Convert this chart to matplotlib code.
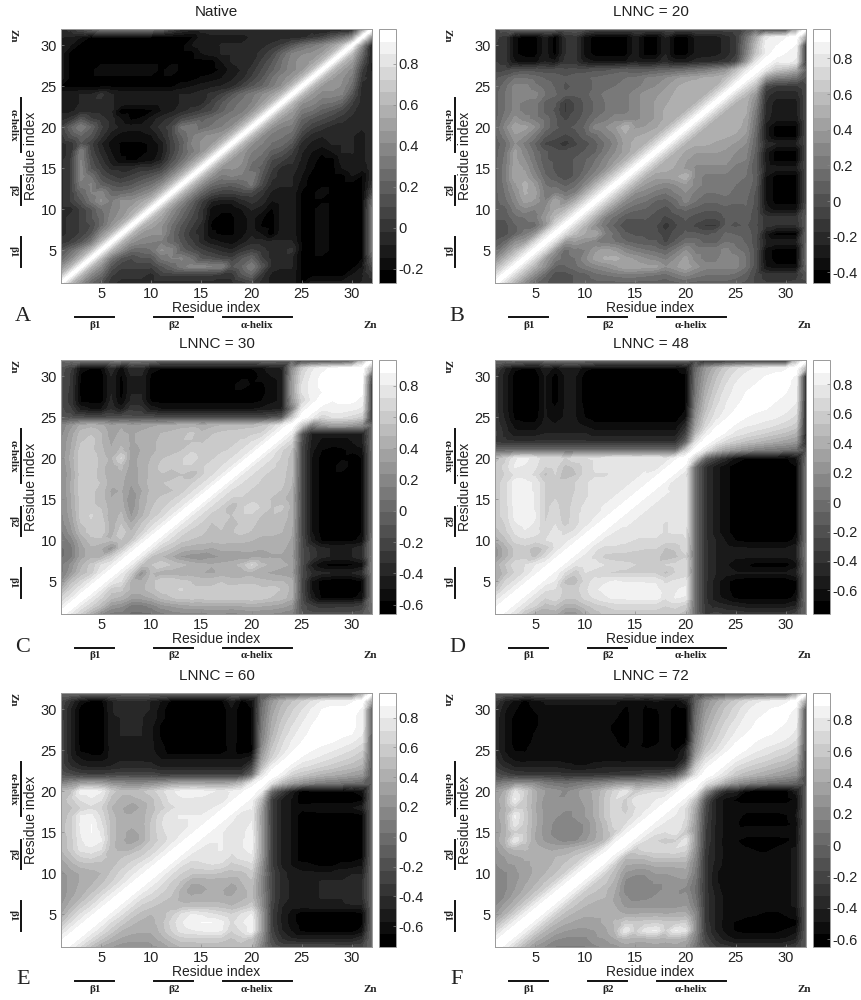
import numpy as np
import matplotlib
matplotlib.use('Agg')
import matplotlib.pyplot as plt
from matplotlib.colors import ListedColormap
from matplotlib.lines import Line2D
from matplotlib.tri import Triangulation

W, H = 861, 1000
plt.rcParams['font.family'] = ['Liberation Sans', 'DejaVu Sans']

titles = ['Native', 'LNNC = 20', 'LNNC = 30', 'LNNC = 48', 'LNNC = 60', 'LNNC = 72']
letters = ['A', 'B', 'C', 'D', 'E', 'F']
cbar_low = [-0.27, -0.46, -0.66, -0.76, -0.74, -0.65]
cbar_high = [0.97, 0.965, 0.965, 0.965, 0.965, 0.97]
cbar_ticks = [[-0.2, 0, 0.2, 0.4, 0.6, 0.8],
              [-0.4, -0.2, 0, 0.2, 0.4, 0.6, 0.8],
              [-0.6, -0.4, -0.2, 0, 0.2, 0.4, 0.6, 0.8],
              [-0.6, -0.4, -0.2, 0, 0.2, 0.4, 0.6, 0.8],
              [-0.6, -0.4, -0.2, 0, 0.2, 0.4, 0.6, 0.8],
              [-0.6, -0.4, -0.2, 0, 0.2, 0.4, 0.6, 0.8]]
residue_ticks = [5, 10, 15, 20, 25, 30]

# secondary structure ranges (residue numbers)
struct_names = ['\u03b21', '\u03b22', '\u03b1-helix']
struct_start = [2.4, 10.3, 17.1]
struct_end = [6.3, 14.2, 24.0]
# the vertical bars do not follow the axis, pixels below the axes top
vbar_top = [208, 147, 69]
vbar_bottom = [238, 176, 123]

# correlation, lower triangle by row, in hundredths
native = [
    [97],
    [60, 97],
    [40, 60, 97],
    [22, 38, 60, 97],
    [12, 25, 40, 60, 97],
    [0, 5, 15, 30, 60, 97],
    [-5, 0, 5, 15, 40, 60, 97],
    [-5, 0, 5, 10, 25, 42, 60, 97],
    [-5, 0, 5, 15, 25, 38, 45, 60, 97],
    [-5, -5, 5, 15, 28, 35, 42, 50, 62, 97],
    [-5, 5, 15, 30, 42, 33, 42, 42, 50, 62, 97],
    [-5, 5, 22, 35, 38, 25, 25, 28, 35, 42, 62, 97],
    [-5, 5, 32, 36, 20, 15, 12, 15, 22, 28, 40, 62, 97],
    [-5, 5, 38, 28, 12, 5, 0, 5, 10, 15, 22, 40, 62, 97],
    [-5, 5, 38, 15, 5, -5, -5, -5, 0, 0, 5, 22, 40, 62, 97],
    [-5, 5, 35, 12, 0, -12, -20, -22, -20, -18, -8, 10, 25, 42, 62, 97],
    [-5, 0, 35, 8, -5, -15, -22, -22, -22, -20, -12, 5, 20, 32, 42, 62, 97],
    [-5, 0, 15, 5, -8, -18, -22, -22, -22, -20, -12, 5, 18, 35, 42, 45, 62, 97],
    [0, 15, 22, 15, 0, -12, -18, -18, -18, -15, -5, 8, 22, 33, 40, 42, 45, 62, 97],
    [5, 22, 35, 22, 5, -5, -10, -12, -12, -8, 0, 8, 30, 35, 25, 30, 35, 42, 62, 97],
    [-5, 0, 15, 5, 0, -5, -15, -22, -20, -12, -5, 0, 10, 15, 20, 25, 30, 35, 42, 62, 97],
    [-10, -10, -5, -5, -5, -8, -25, -24, -24, -22, -15, -10, -5, 0, 5, 10, 20, 28, 32, 42, 62, 97],
    [-10, -10, -8, -5, -5, -8, -10, -12, -12, -12, -12, -10, -8, -5, -5, 5, 15, 25, 30, 35, 45, 62, 97],
    [-10, -10, -8, -8, 0, -8, -10, -10, -10, -10, -10, -10, -8, -8, -5, 0, 5, 15, 25, 32, 40, 48, 62, 97],
    [-22] * 12 + [-18, -15, -12, -10, -8, -5, 5, 15, 22, 32, 42, 62, 97],
    [-12] + [-24] * 13 + [-20, -18, -15, -10, -5, 5, 15, 28, 38, 45, 62, 97],
    [-12, -24, -24, -24, -15, -15, -15, -15, -15, -15, -24, -15, -24, -24, -24, -24, -20, -12, -8, 0, 10, 20, 30, 38, 45, 62, 97],
    [-12] + [-24] * 15 + [-15, -8, -5, -5, 5, 15, 28, 38, 45, 48, 62, 97],
    [-12] + [-24] * 13 + [-15, -12, -8, -8, -5, -5, 0, 8, 22, 35, 40, 42, 48, 62, 97],
    [-10, -15] + [-24] * 11 + [-15, -10, -10, -8, -8, -8, -5, -5, 0, 5, 15, 25, 32, 38, 48, 62, 97],
    [-8, -10, -15] + [-22] * 11 + [-12, -10, -10, -10, -10, -8, -8, -8, -5, -5, -5, 0, 5, 15, 25, 40, 97],
    [-5, 0, 10, 20, 30, 30, 30, 30, 30, 30, 25, 10, 0] + [-5] * 13 + [-10, -10, -10, -10, 40, 97],
]

lnnc20 = [
    [97],
    [72, 97],
    [50, 72, 97],
    [28, 50, 72, 97],
    [12, 30, 50, 72, 97],
    [5, 12, 32, 40, 72, 97],
    [0, 0, 10, 22, 35, 72, 97],
    [0, 0, 10, 15, 15, 35, 72, 97],
    [5, 5, 15, 18, 22, 38, 55, 72, 97],
    [5, 8, 22, 30, 25, 32, 45, 52, 72, 97],
    [8, 15, 28, 42, 38, 25, 45, 32, 48, 72, 97],
    [8, 18, 32, 48, 42, 22, 25, 18, 25, 48, 72, 97],
    [8, 20, 38, 50, 38, 18, 15, 8, 15, 28, 50, 72, 97],
    [8, 22, 45, 42, 28, 12, 5, -2, 5, 18, 30, 50, 72, 97],
    [8, 22, 45, 38, 22, 8, 2, -2, 5, 12, 22, 32, 50, 72, 97],
    [8, 20, 42, 32, 18, 5, 2, 0, 5, 10, 18, 28, 38, 50, 72, 97],
    [8, 18, 42, 28, 15, 5, 0, -2, 0, 5, 10, 22, 32, 42, 52, 72, 97],
    [5, 15, 32, 22, 10, -5, -8, -15, -5, 0, 8, 18, 28, 42, 50, 52, 72, 97],
    [8, 22, 38, 32, 20, 5, 0, -5, 0, 8, 15, 25, 32, 45, 45, 48, 52, 72, 97],
    [10, 28, 45, 42, 32, 15, 5, 2, 5, 12, 28, 32, 38, 52, 38, 40, 45, 52, 72, 97],
    [8, 22, 35, 28, 22, 15, 5, -5, 0, 8, 18, 22, 30, 30, 30, 35, 40, 48, 52, 72, 97],
    [8, 18, 28, 22, 22, 8, 2, -12, -2, 5, 12, 18, 22, 22, 30, 35, 40, 48, 52, 52, 72, 97],
    [8, 18, 28, 22, 22, 8, 5, -12, -2, 5, 12, 18, 22, 22, 30, 35, 40, 45, 50, 52, 52, 72, 97],
    [8, 18, 28, 32, 28, 18, 12, 5, 5, 8, 15, 20, 22, 22, 30, 35, 38, 42, 48, 52, 52, 52, 72, 97],
    [5, 15, 28, 28, 20, 15, 10, 2, 5, 8, 12, 15, 18, 20, 22, 28, 32, 38, 45, 50, 50, 50, 52, 72, 97],
    [2, 8, 18, 18, 15, 10, 8, 5, 8, 10, 12, 15, 18, 18, 20, 25, 28, 32, 38, 42, 45, 48, 50, 55, 75, 97],
    [-5, -5, -2, 0, 0, -2, 0, -2, 0, 0, 2, 2, 5, 8, 5, 5, 8, 10, 12, 15, 18, 22, 28, 35, 55, 78, 97],
    [-10, -15, -32, -35, -35, -25, -30, -15, -15, -28, -32, -32, -32, -32, -25, -28, -28, -20, -28, -28, -22, -20, -18, -15, -5, 35, 78, 97],
    [-10, -15, -38, -42, -42, -28, -42, -18, -15, -35, -42, -42, -42, -42, -28, -42, -42, -25, -42, -42, -30, -28, -28, -22, -12, 22, 60, 82, 97],
    [-10, -15, -38, -42, -42, -28, -42, -18, -15, -35, -42, -42, -42, -42, -28, -42, -42, -25, -42, -42, -30, -28, -28, -22, -12, 20, 55, 85, 88, 97],
    [-8, -15, -38, -42, -42, -28, -42, -18, -15, -35, -42, -42, -42, -42, -28, -42, -42, -25, -42, -42, -30, -28, -28, -22, -12, 15, 45, 80, 85, 88, 97],
    [-5, 0, 10, 15, 15, 10, 10, 5, 5, 0, -5, -5, -5, -5, -5, -5, -5, -5, -5, -5, -5, -5, -5, -5, -5, 0, 10, -12, -15, -15, 40, 97],
]

lnnc30 = [
    [97],
    [78, 97],
    [62, 78, 97],
    [42, 65, 80, 97],
    [22, 50, 65, 80, 97],
    [12, 30, 50, 60, 80, 97],
    [12, 25, 45, 58, 72, 80, 97],
    [5, 12, 35, 45, 45, 60, 80, 97],
    [5, 12, 35, 45, 40, 25, 55, 80, 97],
    [5, 18, 40, 52, 52, 48, 55, 55, 80, 97],
    [12, 28, 50, 60, 62, 42, 62, 48, 62, 80, 97],
    [18, 32, 55, 62, 62, 42, 55, 40, 55, 68, 80, 97],
    [20, 35, 60, 65, 58, 40, 50, 30, 45, 58, 68, 80, 97],
    [20, 38, 60, 58, 55, 42, 45, 25, 42, 55, 60, 70, 80, 97],
    [20, 38, 58, 58, 52, 40, 42, 22, 42, 52, 58, 62, 70, 80, 97],
    [22, 40, 62, 58, 52, 38, 40, 28, 38, 50, 52, 55, 60, 70, 80, 97],
    [22, 40, 62, 60, 55, 42, 42, 32, 42, 52, 55, 58, 60, 62, 70, 80, 97],
    [20, 38, 60, 60, 52, 40, 45, 32, 42, 50, 55, 50, 55, 48, 62, 70, 80, 97],
    [22, 40, 62, 62, 52, 40, 50, 35, 42, 50, 58, 58, 62, 62, 62, 68, 72, 80, 97],
    [25, 42, 62, 62, 52, 45, 65, 35, 42, 48, 55, 58, 62, 70, 60, 62, 68, 72, 80, 97],
    [22, 40, 60, 58, 50, 40, 50, 35, 40, 45, 50, 52, 55, 62, 58, 60, 62, 65, 72, 80, 97],
    [22, 38, 55, 60, 48, 38, 45, 38, 42, 45, 50, 50, 55, 55, 55, 58, 60, 62, 65, 72, 80, 97],
    [20, 35, 52, 55, 48, 35, 42, 38, 42, 45, 48, 50, 52, 58, 50, 55, 58, 60, 62, 62, 65, 80, 97],
    [18, 28, 42, 45, 42, 32, 38, 32, 35, 38, 40, 42, 45, 45, 42, 45, 48, 50, 50, 52, 55, 65, 80, 97],
    [-10, -12, -15, -18, -18, -15, -15, -15, -15, -15] + [-18] * 11 + [-15, -10, 55, 97],
    [-15, -25, -45, -50, -50, -35, -45, -28, -30, -45] + [-50] * 10 + [-48, -45, -42, 10, 80, 97],
    [-15, -30, -60, -62, -62, -40, -58, -40, -40, -60] + [-62] * 10 + [-58, -52, -48, 25, 65, 82, 97],
    [-15, -30, -62, -64, -64, -42, -62, -42, -42, -62] + [-64] * 10 + [-62, -52, -48, 30, 72, 85, 88, 97],
    [-15, -28, -62, -64, -64, -42, -62, -42, -42, -62] + [-64] * 8 + [-50, -60, -60, -52, -48, 30, 72, 85, 90, 92, 97],
    [-15, -28, -60, -64, -64, -42, -60, -42, -42, -60] + [-64] * 10 + [-55, -50, -48, 28, 68, 82, 90, 93, 93, 97],
    [-12, -25, -55, -58, -58, -35, -55, -35, -35, -55] + [-58] * 10 + [-52, -45, -42, 20, 60, 78, 85, 90, 92, 92, 97],
    [0, 5, 10, 10, 10, 12, 15, 12, 10, 8] + [5] * 10 + [5, 5, 0, 0, -30, -30, -30, -30, -30, -20, 40, 97],
]

lnnc48 = [
    [97],
    [85, 97],
    [72, 85, 97],
    [52, 72, 85, 97],
    [38, 62, 72, 85, 97],
    [35, 48, 62, 72, 85, 97],
    [38, 52, 68, 70, 78, 85, 97],
    [22, 40, 55, 58, 50, 68, 85, 97],
    [22, 40, 55, 58, 48, 55, 72, 85, 97],
    [38, 50, 65, 68, 65, 70, 75, 75, 85, 97],
    [48, 58, 72, 78, 75, 65, 75, 68, 72, 85, 97],
    [55, 62, 78, 82, 78, 62, 70, 58, 68, 75, 85, 97],
    [58, 65, 82, 85, 80, 60, 68, 55, 68, 75, 78, 85, 97],
    [58, 65, 82, 85, 78, 60, 65, 55, 68, 72, 78, 80, 85, 97],
    [58, 65, 85, 85, 78, 60, 62, 55, 65, 70, 75, 78, 80, 85, 97],
    [58, 65, 85, 82, 78, 60, 62, 55, 62, 70, 72, 75, 78, 80, 85, 97],
    [58, 65, 85, 82, 78, 60, 60, 58, 62, 70, 72, 72, 75, 78, 80, 85, 97],
    [52, 62, 72, 75, 68, 50, 62, 45, 52, 65, 70, 70, 72, 75, 78, 80, 85, 97],
    [55, 65, 80, 78, 72, 62, 65, 50, 55, 65, 72, 72, 72, 75, 75, 78, 72, 85, 97],
    [48, 58, 78, 82, 75, 65, 70, 60, 68, 70, 72, 75, 78, 78, 75, 78, 78, 72, 85, 97],
    [-5] * 19 + [55, 97],
    [-35, -38] + [-40] * 17 + [-10, 72, 97],
    [-30, -45, -55, -55, -55, -50, -50, -50, -50, -50] + [-55] * 9 + [-30, 45, 80, 97],
    [-35, -48, -62, -65, -65, -55, -58, -55, -55, -60] + [-65] * 9 + [-45, 30, 65, 85, 97],
    [-35, -52, -70, -72, -72, -58, -62, -58, -58, -68] + [-72] * 9 + [-62, 22, 58, 75, 85, 97],
    [-38, -55, -72, -74, -74, -58, -66, -58, -58, -70] + [-74] * 9 + [-68, 15, 50, 70, 80, 88, 97],
    [-38, -55, -72, -74, -74, -58, -72, -58, -58, -72] + [-74] * 9 + [-70, 8, 45, 65, 78, 85, 90, 97],
    [-38, -55, -72, -74, -74, -58, -72, -58, -58, -72] + [-74] * 9 + [-70, 5, 40, 60, 75, 82, 88, 90, 97],
    [-38, -55, -72, -74, -74, -58, -72, -58, -58, -72] + [-74] * 9 + [-70, 2, 35, 55, 70, 80, 85, 88, 90, 97],
    [-38, -55, -72, -74, -74, -58, -72, -58, -58, -72] + [-74] * 9 + [-70, 0, 30, 50, 65, 75, 82, 85, 88, 90, 97],
    [-30, -50, -65, -68, -68, -52, -62, -52, -52, -65] + [-68] * 9 + [-60, -5, 25, 42, 58, 68, 75, 80, 82, 85, 85, 97],
    [-5, -5, 0, 0, 0, 0, 0, 5, 5, 0] + [0] * 9 + [-5, -20, -45, -50, -50, -50, -50, -50, -50, -50, -50, 40, 97],
]

lnnc60 = [
    [97],
    [85, 97],
    [68, 85, 97],
    [50, 70, 85, 97],
    [35, 55, 72, 85, 97],
    [28, 42, 58, 70, 85, 97],
    [22, 35, 45, 58, 72, 85, 97],
    [20, 32, 40, 48, 58, 72, 85, 97],
    [20, 32, 38, 42, 50, 60, 72, 85, 97],
    [25, 32, 38, 42, 45, 55, 65, 75, 85, 97],
    [28, 40, 48, 50, 50, 50, 58, 65, 75, 85, 97],
    [38, 50, 62, 65, 58, 50, 52, 58, 62, 72, 85, 97],
    [45, 58, 75, 78, 72, 48, 42, 42, 52, 62, 72, 85, 97],
    [45, 58, 78, 85, 80, 50, 38, 32, 38, 55, 65, 75, 85, 97],
    [48, 60, 80, 88, 78, 50, 38, 35, 38, 55, 68, 75, 78, 85, 97],
    [48, 60, 82, 88, 72, 50, 38, 38, 40, 55, 70, 78, 78, 80, 85, 97],
    [45, 58, 80, 82, 68, 48, 40, 38, 40, 52, 68, 78, 80, 80, 80, 85, 97],
    [45, 52, 62, 68, 62, 45, 38, 28, 38, 50, 58, 68, 75, 72, 72, 78, 85, 97],
    [48, 58, 72, 78, 72, 50, 42, 42, 45, 50, 62, 75, 78, 78, 78, 75, 72, 85, 97],
    [45, 52, 85, 85, 80, 58, 48, 48, 52, 58, 68, 78, 82, 85, 82, 80, 78, 80, 85, 97],
    [10, 20, 28, 30, 28, 20, 18, 15, 15, 18, 22, 28, 30, 30, 30, 28, 28, 32, 45, 78, 97],
    [-15, -22, -28, -30, -30, -28, -25, -25, -25, -25] + [-30] * 9 + [-5, 72, 97],
    [-25, -40, -48, -50, -50, -48, -45, -45, -45, -45] + [-50] * 9 + [-30, 45, 82, 97],
    [-25, -48, -58, -62, -62, -55, -50, -50, -50, -52] + [-58] * 9 + [-52, 30, 62, 82, 97],
    [-25, -50, -68, -70, -72, -55, -52, -52, -52, -55, -62] + [-72] * 6 + [-62, -72, -70, 20, 55, 72, 85, 97],
    [-25, -50, -70, -72, -72, -52, -50, -50, -50, -55, -65] + [-72] * 6 + [-60, -72, -68, 12, 48, 68, 80, 88, 97],
    [-25, -50, -70, -72, -72, -52, -48, -48, -48, -55, -68] + [-72] * 6 + [-58, -72, -68, 8, 42, 62, 75, 85, 90, 97],
    [-25, -50, -70, -72, -72, -52, -48, -48, -48, -55, -68] + [-72] * 6 + [-58, -72, -68, 5, 38, 58, 70, 80, 88, 90, 97],
    [-28, -50, -70, -72, -72, -52, -48, -48, -48, -52, -62] + [-72] * 6 + [-58, -72, -68, 2, 35, 52, 65, 75, 85, 90, 90, 97],
    [-28, -50, -70, -72, -72, -50, -42, -42, -42, -50, -62] + [-72] * 6 + [-58, -72, -66, 0, 30, 48, 60, 70, 80, 88, 90, 90, 97],
    [-25, -42, -62, -68, -68, -50, -42, -42, -42, -50, -58] + [-68] * 6 + [-52, -68, -62, -5, 25, 42, 52, 62, 72, 80, 85, 85, 85, 97],
    [-5] * 20 + [-10] + [-15] * 9 + [30, 97],
]

lnnc72 = [
    [97],
    [85, 97],
    [65, 85, 97],
    [45, 65, 85, 97],
    [30, 45, 65, 85, 97],
    [22, 35, 48, 65, 85, 97],
    [15, 25, 38, 50, 65, 85, 97],
    [15, 22, 32, 42, 52, 65, 85, 97],
    [15, 22, 30, 38, 45, 55, 65, 85, 97],
    [15, 22, 30, 35, 42, 48, 55, 65, 85, 97],
    [22, 30, 32, 38, 42, 45, 50, 58, 65, 85, 97],
    [25, 32, 38, 42, 42, 45, 48, 50, 58, 65, 85, 97],
    [28, 40, 50, 50, 45, 40, 38, 40, 45, 50, 58, 82, 97],
    [35, 48, 80, 60, 40, 30, 25, 20, 22, 30, 40, 50, 85, 97],
    [32, 45, 62, 58, 40, 28, 20, 20, 20, 25, 38, 50, 62, 85, 97],
    [32, 45, 78, 60, 42, 28, 22, 20, 20, 25, 38, 52, 70, 72, 85, 97],
    [35, 48, 82, 62, 42, 28, 25, 22, 25, 32, 42, 58, 72, 65, 75, 85, 97],
    [32, 45, 62, 58, 40, 28, 25, 25, 25, 32, 42, 58, 70, 60, 72, 78, 85, 97],
    [35, 48, 82, 58, 42, 28, 25, 25, 28, 35, 42, 58, 72, 62, 78, 80, 80, 85, 97],
    [32, 42, 75, 62, 42, 32, 28, 22, 28, 38, 42, 55, 68, 78, 58, 68, 72, 72, 85, 97],
    [8, 15, 22, 22, 20, 12, 8, 5, 8, 12, 15, 20, 25, 28, 28, 30, 32, 38, 52, 85, 97],
    [-12, -20, -25, -28, -28, -28, -28, -30, -30, -30, -30, -30, -28, -25, -25, -22, -20, -18, -10, 25, 75, 97],
    [-25, -35, -42, -42, -42, -42, -42, -45, -48, -48, -45, -42, -42, -42, -42, -42, -42, -42, -42, -15, 60, 85, 97],
    [-30, -45, -52, -54, -52, -52, -52, -54, -54, -54, -52, -52, -52, -54, -52, -52, -52, -52, -52, -38, 38, 72, 85, 97],
    [-35, -50, -58, -58, -52, -50, -50, -50, -50, -50, -50, -50, -52, -56, -54, -56, -52, -52, -58, -40, 25, 58, 72, 85, 97],
    [-35, -50, -60, -62, -54, -50, -50, -50, -50, -50, -50, -52, -56, -62, -50, -60, -60, -52, -62, -58, 18, 50, 65, 78, 88, 97],
    [-35, -50, -60, -62, -56, -50, -50, -50, -50, -50, -50, -54, -58, -62, -50, -60, -60, -52, -62, -62, 12, 45, 60, 72, 82, 88, 97],
    [-35, -50, -60, -62, -60, -50, -50, -50, -50, -50, -50, -54, -60, -62, -50, -60, -60, -52, -62, -62, 8, 40, 55, 68, 78, 85, 90, 97],
    [-35, -50, -60, -62, -60, -50, -50, -50, -50, -50, -50, -50, -56, -62, -50, -60, -60, -52, -62, -62, 5, 35, 50, 62, 72, 82, 88, 90, 97],
    [-32, -48, -56, -62, -56, -50, -50, -50, -50, -50, -50, -50, -50, -60, -50, -60, -58, -52, -62, -60, 2, 30, 45, 58, 68, 78, 85, 88, 90, 97],
    [-25, -42, -52, -60, -52, -48, -48, -48, -48, -48, -48, -48, -48, -52, -50, -55, -48, -55, -55, -45, -2, 25, 38, 50, 60, 70, 78, 82, 85, 85, 97],
    [-8] * 10 + [-5] * 10 + [-10] + [-15] * 9 + [30, 97],
]

maps = [native, lnnc20, lnnc30, lnnc48, lnnc60, lnnc72]

# panel frames in pixels: left, top
ax_left = [61, 495, 61, 495, 61, 495]
ax_top = [29, 29, 360, 360, 693, 693]
AX_W, AX_H = 311, 254
CB_GAP, CB_W = 7, 17


def to_matrix(rows):
    m = np.zeros((32, 32))
    for i, row in enumerate(rows):
        assert len(row) == i + 1, (i, len(row))
        for j, v in enumerate(row):
            m[i, j] = m[j, i] = v / 100
    return m


def diagonal_grid(n):
    # cells split along the main diagonal, so the ridge stays a smooth line
    xx, yy = np.meshgrid(np.arange(1, n + 1), np.arange(1, n + 1))
    tris = []
    for i in range(n - 1):
        for j in range(n - 1):
            a = i * n + j
            tris.append([a, a + 1, a + n + 1])
            tris.append([a, a + n + 1, a + n])
    return Triangulation(xx.ravel(), yy.ravel(), tris)


def fx(px):
    return px / W


def fy(py):
    return 1 - py / H


def text_px(fig, x, y, s, **kw):
    fig.text(fx(x), fy(y), s, ha='center', va='center', **kw)


def line_px(fig, x0, y0, x1, y1):
    fig.add_artist(Line2D([fx(x0), fx(x1)], [fy(y0), fy(y1)], color='#111111', lw=1.4,
                          transform=fig.transFigure))


fig = plt.figure(figsize=(W / 100, H / 100), dpi=100)
grid = diagonal_grid(32)
serif = dict(family=['Liberation Serif', 'DejaVu Serif'], weight='bold', fontsize=8, color='#222222')

for k in range(6):
    left, top = ax_left[k], ax_top[k]
    ax = fig.add_axes([fx(left), fy(top + AX_H), AX_W / W, AX_H / H])
    cax = fig.add_axes([fx(left + AX_W + CB_GAP), fy(top + AX_H), CB_W / W, AX_H / H])

    low, high = cbar_low[k], cbar_high[k]
    levels = np.linspace(low, high, 21)
    cmap = ListedColormap(plt.get_cmap('gray')(np.linspace(0, 1, 20)))
    m = np.clip(to_matrix(maps[k]), low + 0.001, high - 0.001)
    cs = ax.tricontourf(grid, m.ravel(), levels=levels, cmap=cmap)
    ax.set_xlim(1, 32)
    ax.set_ylim(1, 32)
    ax.set_xticks(residue_ticks)
    ax.set_yticks(residue_ticks)
    ax.tick_params(direction='in', length=2, width=0.5, color='#888888', labelsize=10.5,
                   labelcolor='#222222', pad=3)
    for s in ax.spines.values():
        s.set_color('#999999')
        s.set_linewidth(0.7)

    cb = fig.colorbar(cs, cax=cax, ticks=cbar_ticks[k], drawedges=False)
    cb.ax.set_ylim(low, high)
    cb.ax.set_yticklabels([f'{t:g}' for t in cbar_ticks[k]])
    cb.ax.tick_params(direction='in', length=2, width=0.5, color='#888888', labelsize=10.5,
                      labelcolor='#222222', pad=2)
    cb.outline.set_edgecolor('#999999')
    cb.outline.set_linewidth(0.7)

    cx = left + AX_W / 2
    cy = top + AX_H / 2
    bottom = top + AX_H
    text_px(fig, cx, top - 16.5, titles[k], fontsize=11, color='#222222')
    text_px(fig, cx, bottom + 25, 'Residue index', fontsize=10, color='#222222')
    text_px(fig, left - 30, cy, 'Residue index', fontsize=10, rotation=90, color='#222222')

    # letter and secondary structure marks
    text_px(fig, left - 38, bottom + 33, letters[k], family='Liberation Serif', fontsize=16,
            color='#222222')
    for n, name in enumerate(struct_names):
        x0 = left + (struct_start[n] - 1) * AX_W / 31
        x1 = left + (struct_end[n] - 1) * AX_W / 31
        line_px(fig, x0, bottom + 33.5, x1, bottom + 33.5)
        text_px(fig, (x0 + x1) / 2, bottom + 42, name, **serif)
        y0 = top + vbar_top[n]
        y1 = top + vbar_bottom[n]
        line_px(fig, left - 40, y0, left - 40, y1)
        text_px(fig, left - 48, (y0 + y1) / 2, name, rotation=270, **serif)
    text_px(fig, left + 309, bottom + 42, 'Zn', **serif)
    text_px(fig, left - 48, top + 7, 'Zn', rotation=270, **serif)

fig.savefig('out.png', dpi=100)
